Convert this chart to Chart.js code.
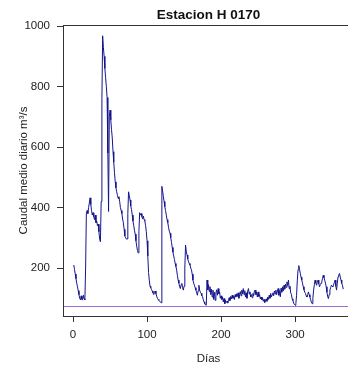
<!DOCTYPE html>
<html>
<head>
<meta charset="utf-8">
<title>Estacion H 0170</title>
<script src="https://cdn.jsdelivr.net/npm/chart.js@4/dist/chart.umd.min.js"></script>
<style>
  html, body { margin: 0; padding: 0; background: #fff; overflow: hidden; }
  #grafico { display: block; }
</style>
</head>
<body>
<canvas id="grafico" width="360" height="372"></canvas>
<script>
const titulo = 'Estacion H 0170';
const tituloX = 'Días';
const tituloY = 'Caudal medio diario m³/s';
const ticksX = [0, 100, 200, 300];
const ticksY = [200, 400, 600, 800, 1000];
const caudalMinimo = 75;

// caudal medio diario, un valor por dia (m3/s)
const caudal = [
  210, 195, 180, 165, 150, 138, 125, 112, 100, 95,
  108, 96, 95, 110, 98, 95, 200, 383, 390, 380,
  400, 415, 432, 410, 390, 375, 383, 370, 360, 375,
  350, 355, 340, 345, 320, 295, 287, 420, 760, 968,
  930, 900, 860, 830, 800, 764, 580, 387, 700, 722,
  690, 658, 630, 585, 550, 515, 485, 465, 452, 440,
  430, 436, 420, 400, 390, 380, 362, 350, 328, 306,
  300, 296, 296, 380, 452, 440, 425, 405, 393, 375,
  355, 340, 325, 312, 290, 273, 258, 250, 320, 383,
  375, 380, 370, 362, 372, 360, 356, 340, 320, 290,
  240, 185, 160, 140, 135, 129, 124, 118, 112, 120,
  124, 115, 107, 100, 96, 93, 91, 88, 85, 470,
  455, 437, 420, 403, 390, 375, 360, 350, 335, 322,
  315, 300, 285, 268, 252, 240, 228, 215, 205, 193,
  175, 160, 150, 138, 132, 145, 149, 135, 127, 140,
  200, 276, 255, 243, 230, 221, 215, 210, 200, 194,
  180, 160, 150, 143, 135, 127, 118, 110, 125, 143,
  127, 120, 116, 108, 105, 95, 88, 82, 78, 77,
  160, 128, 145, 122, 138, 112, 130, 104, 127, 96,
  120, 93, 118, 128, 110, 132, 115, 121, 100, 108,
  96, 104, 88, 99, 82, 93, 86, 90, 84, 95,
  102, 92, 106, 98, 110, 100, 108, 96, 112, 104,
  115, 106, 118, 100, 112, 122, 108, 127, 115, 132,
  112, 125, 104, 118, 100, 125, 132, 114, 121, 104,
  112, 102, 116, 108, 124, 127, 112, 120, 104, 121,
  106, 112, 98, 104, 95, 102, 90, 96, 86, 92,
  98, 90, 104, 96, 110, 100, 116, 104, 112, 118,
  108, 124, 114, 127, 112, 121, 132, 110, 125, 105,
  133, 120, 138, 124, 143, 130, 147, 136, 154, 142,
  160, 132, 140, 118, 113, 98, 93, 84, 80, 77,
  82, 110, 160, 195, 208, 195, 182, 170, 160, 150,
  138, 128, 120, 116, 108, 104, 112, 121, 112, 104,
  95, 87, 82, 100, 127, 145, 160, 150, 143, 152,
  160, 148, 138, 145, 150, 154, 165, 176, 168, 160,
  150, 138, 120, 105, 99, 112, 127, 135, 143, 140,
  138, 145, 152, 160, 140, 127, 150, 171, 178, 182,
  170, 160, 149, 143, 130
];
const dias = caudal.map((_, i) => i + 1);

// limites con un 4% extra a cada lado, como en los graficos de R
const rango = (v) => {
  const min = Math.min(...v), max = Math.max(...v);
  const d = (max - min) * 0.04;
  return [min - d, max + d];
};
const [xMin, xMax] = rango(dias);
const [yMin, yMax] = rango(caudal);

const fuente = "'Liberation Sans', Arial, sans-serif";
const tinta = '#222';
const sinComas = (v) => String(v);

// marco del grafico y linea horizontal del caudal minimo
const marcoPlugin = {
  id: 'marco',
  afterDatasetsDraw(chart) {
    const { ctx, chartArea: a, scales } = chart;
    const y = Math.round(scales.y.getPixelForValue(caudalMinimo)) + 0.5;
    ctx.save();
    ctx.strokeStyle = '#9b6fd6';
    ctx.lineWidth = 1;
    ctx.beginPath();
    ctx.moveTo(a.left, y);
    ctx.lineTo(a.right, y);
    ctx.stroke();
    ctx.restore();
  },
  afterDraw(chart) {
    const { ctx, chartArea: a } = chart;
    ctx.save();
    ctx.strokeStyle = '#333';
    ctx.lineWidth = 1;
    ctx.strokeRect(Math.round(a.left) + 0.5, Math.round(a.top) + 0.5,
      Math.round(a.right - a.left), Math.round(a.bottom - a.top));
    ctx.restore();
  }
};

const ejeComun = {
  grid: { display: true, drawOnChartArea: false, drawTicks: true, tickLength: 6, color: '#333', lineWidth: 1 },
  border: { display: true, color: '#333' },
};

new Chart(document.getElementById('grafico'), {
  type: 'line',
  data: {
    datasets: [{
      data: caudal.map((q, i) => ({ x: dias[i], y: q })),
      borderColor: '#14148c',
      borderWidth: 1,
      pointRadius: 0,
      tension: 0,
      fill: false
    }]
  },
  options: {
    responsive: false,
    devicePixelRatio: 1,
    animation: false,
    layout: { padding: { right: 6 } },
    plugins: {
      legend: { display: false },
      tooltip: { enabled: false },
      title: {
        display: true,
        text: titulo,
        fullSize: false,
        color: '#111',
        font: { family: fuente, size: 13.5, weight: 'bold', lineHeight: '16px' },
        padding: { top: 7, bottom: 2 }
      }
    },
    scales: {
      x: {
        ...ejeComun,
        type: 'linear',
        min: xMin,
        max: xMax,
        afterBuildTicks: (s) => { s.ticks = ticksX.map(v => ({ value: v })); },
        afterFit: (s) => { s.height = 56; },
        ticks: { color: tinta, font: { family: fuente, size: 11.5 }, padding: 6, maxRotation: 0, autoSkip: false, callback: sinComas },
        title: { display: true, text: tituloX, color: tinta, font: { family: fuente, size: 11.5 }, padding: { top: 0, bottom: 6 } }
      },
      y: {
        ...ejeComun,
        min: yMin,
        max: yMax,
        afterBuildTicks: (s) => { s.ticks = ticksY.map(v => ({ value: v })); },
        afterFit: (s) => { s.width = 63; },
        ticks: { color: tinta, font: { family: fuente, size: 11.5 }, padding: 7, autoSkip: false, callback: sinComas },
        title: { display: true, text: tituloY, color: tinta, font: { family: fuente, size: 11.5 }, padding: { top: 17, bottom: 0 } }
      }
    }
  },
  plugins: [marcoPlugin]
});
</script>
</body>
</html>
